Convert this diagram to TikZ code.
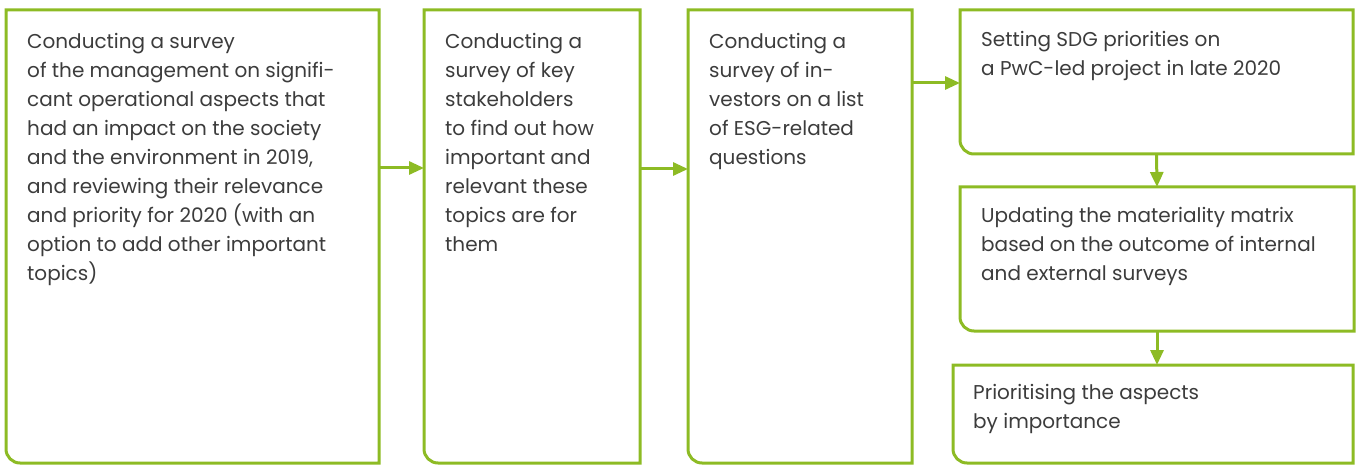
\documentclass[tikz,border=0pt]{standalone}
\usepackage{fontspec}
\setmainfont{Poppins}
\usetikzlibrary{arrows.meta}
\definecolor{leaf}{RGB}{141,187,36}
\definecolor{ink}{RGB}{60,60,60}
\tikzset{
  box/.style={draw=none,inner sep=0pt,outer sep=0pt,anchor=south west},
  txt/.style={anchor=north west,inner sep=0pt,align=left,text=ink,
    font=\fontsize{20}{29}\selectfont},
  edge/.style={draw=leaf,line width=3pt,line join=miter},
  arr/.style={draw=leaf,line width=3pt,-{Triangle[length=15pt,width=13pt]}}
}
\newcommand{\boxline}[1]{\draw[edge] (#1.south east) -- (#1.north east) -- (#1.north west)
  -- ([yshift=14pt]#1.south west) arc[start angle=180,end angle=270,radius=14pt] -- cycle;}
\begin{document}
\begin{tikzpicture}[x=1pt,y=1pt]
      \useasboundingbox (0,0) rectangle (1359,464);
      \path (6,1)     node[box,minimum width=373pt,minimum height=453pt] (b1) {};
      \path (424,1)   node[box,minimum width=216pt,minimum height=453pt] (b2) {};
      \path (688,1)   node[box,minimum width=224pt,minimum height=453pt] (b3) {};
      \path (960,310) node[box,minimum width=393pt,minimum height=144pt] (b4) {};
      \path (960,133) node[box,minimum width=394pt,minimum height=144pt] (b5) {};
      \path (953,1)   node[box,minimum width=400pt,minimum height=98pt]  (b6) {};

      \boxline{b1} \boxline{b2} \boxline{b3}
      \boxline{b4} \boxline{b5} \boxline{b6}

      \path ([xshift=21pt,yshift=-23pt]b1.north west) node[txt] (t1) {Conducting a survey\\
        of the management on signifi-\\cant operational aspects that\\had an impact on the society\\
        and the environment in 2019,\\and reviewing their relevance\\and priority for 2020 (with an\\
        option to add other important\\topics)};
      \path ([xshift=21pt,yshift=-23pt]b2.north west) node[txt] (t2) {Conducting a\\survey of key\\
        stakeholders\\to find out how\\important and\\relevant these\\topics are for\\them};
      \path ([xshift=21pt,yshift=-23pt]b3.north west) node[txt] (t3) {Conducting a\\survey of in-\\
        vestors on a list\\of ESG-related\\questions};
      \path ([xshift=21pt,yshift=-21pt]b4.north west) node[txt] (t4) {Setting SDG priorities on\\
        a PwC-led project in late 2020};
      \path ([xshift=21pt,yshift=-20pt]b5.north west) node[txt] (t5) {Updating the materiality matrix\\
        based on the outcome of internal\\and external surveys};
      \path ([xshift=20pt,yshift=-19pt]b6.north west) node[txt] (t6) {Prioritising the aspects\\
        by importance};

      \draw[arr] ([yshift=-158pt]b1.north east) -- ([yshift=-158pt]b2.north west); %b1b2
      \draw[arr] ([yshift=-159pt]b2.north east) -- ([yshift=-159pt]b3.north west); %b2b3
      \draw[arr] ([yshift=-73pt]b3.north east) -- ([yshift=-73pt]b4.north west); %b3b4
      \draw[arr] (b4.south) -- (b5.north); %b4b5
      \draw[arr] (b5.south) -- (b5.south |- b6.north); %b5b6

\end{tikzpicture}
\end{document}
